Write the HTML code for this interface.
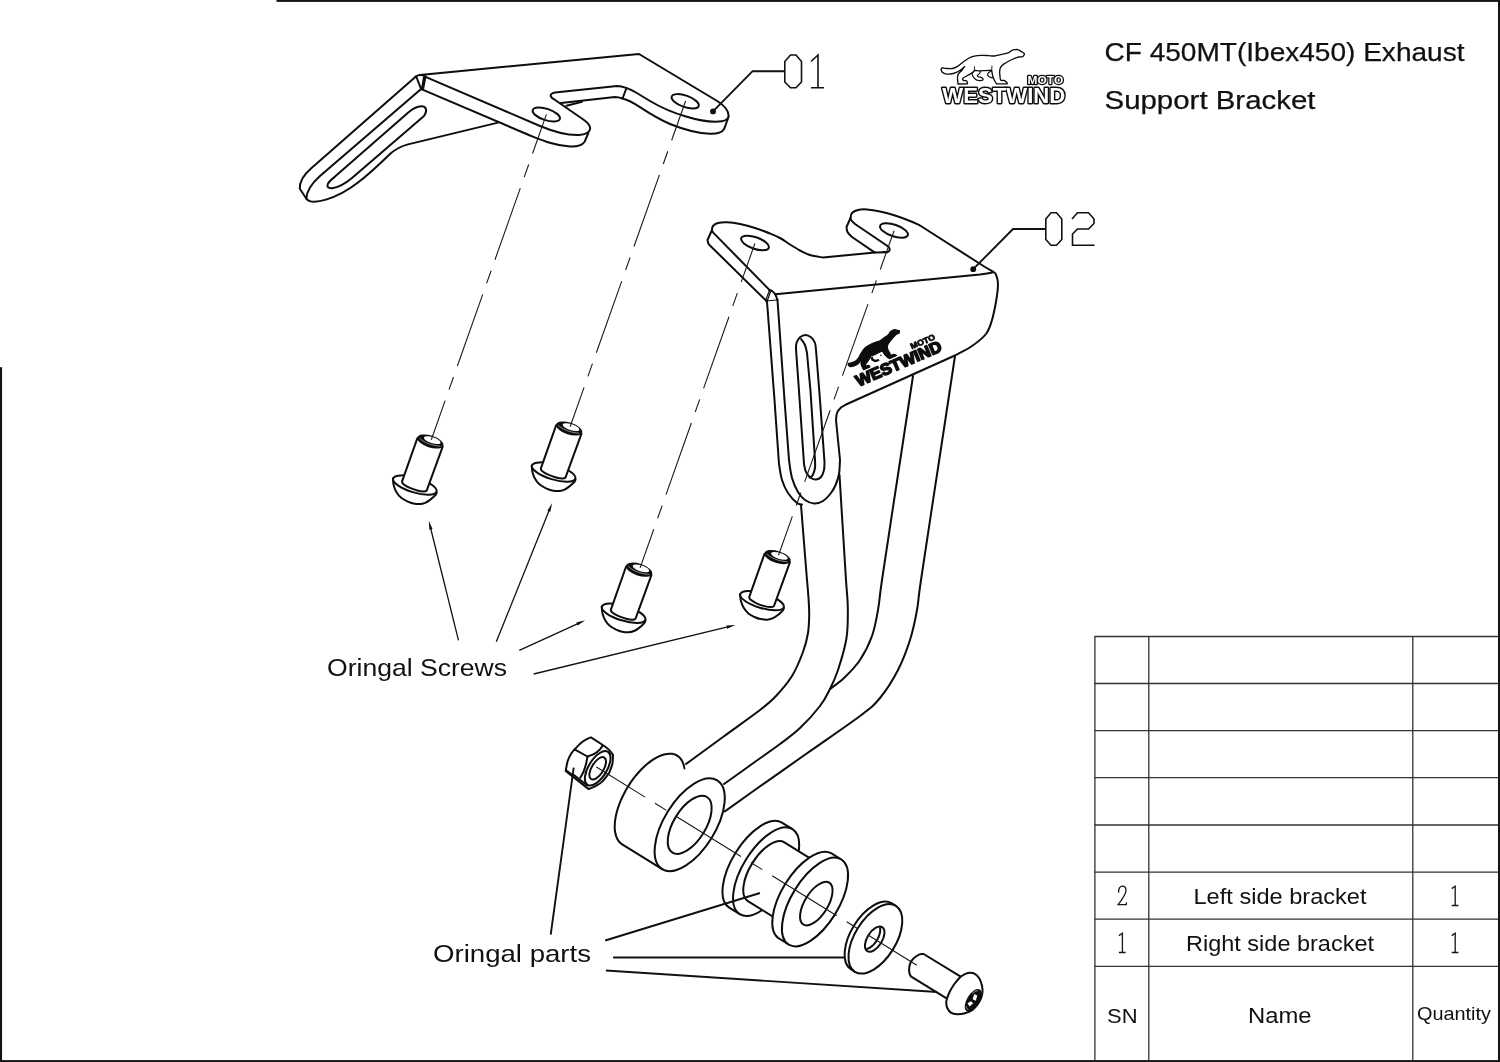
<!DOCTYPE html>
<html><head><meta charset="utf-8">
<style>
html,body{margin:0;padding:0;background:#fff;}
body{width:1500px;height:1062px;overflow:hidden;font-family:"Liberation Sans",sans-serif;}
svg{display:block;position:absolute;left:0;top:0;filter:grayscale(1);}
.o{fill:none;stroke:#0d0d0d;stroke-width:2;stroke-linecap:round;stroke-linejoin:round;}
.w{fill:#fff;stroke:#0d0d0d;stroke-width:2;stroke-linecap:round;stroke-linejoin:round;}
.c{fill:none;stroke:#1a1a1a;stroke-width:1.1;stroke-dasharray:76 11.6 13.5 11.6;}
.l{fill:none;stroke:#111;stroke-width:1.9;stroke-linecap:butt;}
.d{fill:none;stroke:#111;stroke-width:1.6;stroke-linecap:butt;}
.a{fill:none;stroke:#111;stroke-width:1.3;}
.t{fill:none;stroke:#333;stroke-width:1.3;}
.f{fill:#0d0d0d;stroke:none;}
text{font-family:"Liberation Sans",sans-serif;fill:#111;}
</style></head><body>
<svg width="1500" height="1062" viewBox="0 0 1500 1062">
<!-- FRAME -->
<g id="frame" fill="#161212">
<rect x="276.5" y="0" width="1223.5" height="1.9"/>
<rect x="0" y="367.2" width="2.05" height="695"/>
<rect x="0" y="1060.1" width="1500" height="2"/>
<rect x="1498" y="0" width="2" height="1062"/>
</g>
<!-- TABLE -->
<g id="table" class="t">
<path d="M1094.9 636.5V1060M1148.8 636.5V1060M1412.8 636.5V1060"/>
<path d="M1094.3 636.5H1498M1094.3 683.5H1498M1094.3 730.6H1498M1094.3 777.7H1498M1094.3 825H1498M1094.3 872.1H1498M1094.3 919.2H1498M1094.3 966.4H1498"/>
</g>
<!--LOGO-->
<defs><path id="anim" d="M941.0 69.3C941.2 69.0 941.3 67.9 942.2 67.8C943.1 67.7 944.7 68.4 946.4 68.5C948.1 68.6 950.8 68.8 952.6 68.5C954.5 68.2 955.8 67.5 957.5 66.4C959.2 65.4 961.1 63.5 962.9 62.2C964.7 60.9 966.6 59.5 968.3 58.5C970.0 57.5 971.1 56.9 973.3 56.4C975.5 55.9 979.1 55.5 981.6 55.4C984.1 55.3 986.1 55.5 988.3 55.6C990.4 55.7 992.4 56.2 994.5 56.0C996.6 55.8 998.4 55.1 1000.7 54.6C1003.0 54.1 1006.4 53.6 1008.2 52.9C1010.0 52.2 1010.3 51.1 1011.5 50.6C1012.7 50.1 1014.0 49.7 1015.2 49.6C1016.4 49.5 1017.5 49.4 1018.5 49.8C1019.5 50.1 1020.4 51.1 1021.4 51.7C1022.4 52.3 1023.9 52.9 1024.3 53.5C1024.7 54.1 1024.2 54.7 1023.9 55.2C1023.6 55.8 1023.0 56.5 1022.3 56.8C1021.5 57.1 1020.6 56.6 1019.4 56.8C1018.2 57.0 1016.9 57.4 1015.2 58.1C1013.5 58.8 1010.9 60.0 1009.0 61.0C1007.1 62.0 1005.4 62.9 1004.0 63.9C1002.6 64.9 1001.4 66.0 1000.7 67.2C1000.0 68.4 999.8 69.5 999.7 70.9C999.6 72.3 999.7 74.0 999.9 75.5C1000.1 77.0 1000.0 79.3 1000.7 80.1C1001.4 80.9 1003.0 80.2 1004.0 80.5C1005.0 80.8 1005.9 81.5 1006.5 82.1C1007.1 82.6 1007.2 83.5 1007.4 83.8L996.6 83.8C996.2 83.2 995.1 81.8 994.5 80.5C993.9 79.2 993.2 77.7 992.8 76.3C992.4 74.9 992.2 73.2 992.0 72.2C991.8 71.2 991.7 70.5 991.6 70.2C990.5 70.3 986.9 70.5 985.0 70.6C983.1 70.7 981.8 70.8 980.0 70.8C978.2 70.8 975.4 70.5 974.5 70.5C974.2 70.8 973.7 71.8 972.5 72.6C971.3 73.4 969.1 74.5 967.5 75.5C965.9 76.5 963.6 77.6 962.9 78.4C962.2 79.2 962.8 80.1 963.4 80.5C964.0 80.9 966.0 80.4 966.7 80.9C967.4 81.5 967.4 83.3 967.5 83.8L958 84C957.9 82.9 957.4 78.9 957.5 77.2C957.6 75.5 957.7 74.9 958.4 73.8C959.1 72.7 960.7 71.7 961.7 70.5C962.7 69.3 964.1 67.2 964.6 66.6C964.0 67.1 962.4 68.7 960.9 69.7C959.4 70.7 957.6 71.9 955.9 72.6C954.2 73.3 952.2 73.8 950.5 74.0C948.8 74.2 946.9 74.1 945.5 73.8C944.1 73.5 943.0 73.0 942.2 72.2C941.5 71.5 941.2 69.8 941.0 69.3Z"/><path id="anim2" d="M974.2 70.9C973.9 71.2 972.6 72.2 972.3 73.0C972.0 73.8 972.0 74.5 972.5 75.5C973.0 76.5 974.4 78.4 975.4 79.2C976.4 80.0 977.5 80.3 978.7 80.5C979.9 80.7 982.2 80.5 982.8 80.1C983.4 79.7 983.1 78.6 982.4 78.0C981.6 77.4 979.1 77.1 978.3 76.7C977.5 76.3 977.1 76.1 977.4 75.5C977.7 74.9 979.4 73.8 979.9 73.0C980.4 72.2 980.2 71.2 980.3 70.9M991.4 70.6C991.0 70.9 989.4 71.9 988.7 72.6C988.1 73.3 987.4 74.0 987.5 74.7C987.6 75.4 988.2 76.2 989.1 76.7C990.0 77.2 992.2 77.8 992.8 78.0"/></defs>
<g id="hlogo">
<use href="#anim" fill="#fff" stroke="#0d0d0d" stroke-width="1.35" stroke-linejoin="round"/>
<use href="#anim2" fill="none" stroke="#0d0d0d" stroke-width="1.2" stroke-linejoin="round" stroke-linecap="round"/>
<path d="M974.3 66.3L974.6 70.5M992 65.6L991.7 70.2" fill="none" stroke="#0d0d0d" stroke-width="0.9"/>
<text x="942.3" y="102.6" font-size="22.2" font-weight="700" textLength="123" lengthAdjust="spacingAndGlyphs" style="fill:#0d0d0d;stroke:#0d0d0d;stroke-width:2.9;stroke-linejoin:round">WESTWIND</text>
<text x="1027.6" y="84.2" font-size="11.2" font-weight="700" textLength="35.6" lengthAdjust="spacingAndGlyphs" style="fill:#0d0d0d;stroke:#0d0d0d;stroke-width:2.5;stroke-linejoin:round">MOTO</text>
<text x="942.3" y="102.6" font-size="22.2" font-weight="700" textLength="123" lengthAdjust="spacingAndGlyphs" style="fill:#fff;stroke:none">WESTWIND</text>
<text x="1027.6" y="84.2" font-size="11.2" font-weight="700" textLength="35.6" lengthAdjust="spacingAndGlyphs" style="fill:#fff;stroke:none">MOTO</text>
</g>
<g id="blogo" transform="translate(848.1 364.8) rotate(-23.1) scale(0.727) translate(-941 -69.3)">
<use href="#anim" fill="#0d0d0d" stroke="#0d0d0d" stroke-width="1.5" stroke-linejoin="round"/>
<path d="M973.6 72.2L972.8 76L975.6 80L979 81.3L983.3 80.8L982.6 78.3L978.4 77.6L976.4 75.6L976.6 72.2ZM986.6 74.2L988.4 74.2L988.6 76.2L987 76Z" fill="#0d0d0d"/>
<text x="942.3" y="102.6" font-size="22.2" font-weight="700" textLength="126.5" lengthAdjust="spacingAndGlyphs" style="fill:#0d0d0d;stroke:#0d0d0d;stroke-width:2.1;stroke-linejoin:round">WESTWIND</text>
<text x="1030" y="84.2" font-size="11.2" font-weight="700" textLength="35.6" lengthAdjust="spacingAndGlyphs" style="fill:#0d0d0d;stroke:#0d0d0d;stroke-width:1.1">MOTO</text>
</g>

<!--/LOGO-->
<!--TEXT-->
<g id="txt" stroke="#111" stroke-width="0.25">
<text x="1104.5" y="60.6" font-size="25.5" textLength="360" lengthAdjust="spacingAndGlyphs">CF 450MT(Ibex450) Exhaust</text>
<text x="1104.5" y="108.7" font-size="25.5" textLength="211" lengthAdjust="spacingAndGlyphs">Support Bracket</text>
</g>
<g id="txt2">
<text x="327" y="675.5" font-size="24.8" textLength="180" lengthAdjust="spacingAndGlyphs">Oringal Screws</text>
<text x="433" y="961.6" font-size="24.8" textLength="158" lengthAdjust="spacingAndGlyphs">Oringal parts</text>
<text x="1193.5" y="904.2" font-size="21.8" textLength="173" lengthAdjust="spacingAndGlyphs">Left side bracket</text>
<text x="1186" y="951.2" font-size="21.8" textLength="188" lengthAdjust="spacingAndGlyphs">Right side bracket</text>
<text x="1107" y="1022.5" font-size="20.5" textLength="30.5" lengthAdjust="spacingAndGlyphs">SN</text>
<text x="1248" y="1022.5" font-size="21.3" textLength="63.5" lengthAdjust="spacingAndGlyphs">Name</text>
<text x="1417" y="1020.3" font-size="17.8" textLength="74" lengthAdjust="spacingAndGlyphs">Quantity</text>
</g>
<g id="nums" fill="none" stroke="#151515" stroke-width="1.3">
<path id="n2" d="M1118.6 892.6C1118.3 888.5 1120 886.2 1122.3 886.2C1124.8 886.2 1126 888 1126 890.4C1126 894 1123.5 897.5 1118.1 904.6H1126.2L1126.6 902.4"/>
<path id="n1a" d="M1118.9 935.6L1122.4 933.2V952.5M1118.9 952.5H1125.6"/>
<path d="M1451.7 888.6L1455.2 886.2V905.5M1451.7 905.5H1458.4"/>
<path d="M1451.7 935.6L1455.2 933.2V952.5M1451.7 952.5H1458.4"/>
</g>
<!--BRACKET01-->
<g id="b01" class="o">
<!-- top plate outline -->
<path d="M420 75L639 54L718 101.5C724 105.5 728.8 110.5 728.6 116C728.3 119 726 120.6 722 121.2C712 122.6 699 120.5 686 116.5C672 112.5 660 107 650 101L636 92.5C630 89 624.5 86.4 617 86L555 92.5C551.5 93 550 94.8 551 96.6C551.6 98 552.5 98.3 554 99.2L584 120C588.5 123.3 590.8 126.5 590 129.5C589 133 585 134.6 579 135C566 135.6 552 131 540 126L425.5 76.8"/>
<!-- thickness right tab -->
<path d="M728.5 117L724 129.3C722 132.5 717 134 710 133.8C698 133.4 684 129.6 670 124C658 119 648 112.5 640 107.2C634 103.2 628.5 100 622.5 98.5C620 97.6 617.5 97 615 97L561 103"/>
<path d="M626.5 88L622.5 98.5"/>
<path d="M582 101.8L566.5 105.8"/>
<!-- thickness left tab -->
<path d="M588.3 133.2L584.5 142C582 145.4 577 146.8 570 146.5C556 146 543 140.6 530 135.5L422.5 89.6"/>
<!-- bend -->
<path d="M415.6 76.6C418.5 74.6 422.5 74.6 425.5 76.6"/>
<path d="M416.4 77L421.3 89.4M425.5 76.6L423 89.6M424 77L422 89"/>
<!-- left arm -->
<path d="M415.6 76.8L311 168.5C303.5 175 299.4 181.5 299.8 188.7L306.4 198.8"/>
<path d="M420.8 89.2L320 176C311 184 306.5 191 306.4 198.8C310 203 318 202 326 199.6C338 196 349 189.5 358 182.5C370 173.5 380 163.5 390 154C396 148.6 402 146 408 144.4L498 122.6"/>
<!-- slot -->
<path d="M424 116L352 178C346 183 338 187.5 332 188.2C328 188.6 326.5 186.5 328 183.6C329.5 181 332 179 335 176.6L408 112.8C412 109.2 417.5 106.4 421.5 106.3C426.5 106.2 427.6 111 424 116Z"/>
<!-- holes -->
<ellipse cx="546.3" cy="114.5" rx="14.3" ry="5.7" transform="rotate(18.5 546.3 114.5)"/>
<ellipse cx="685.2" cy="101.3" rx="14.3" ry="5.7" transform="rotate(19.5 685.2 101.3)"/>
</g>
<circle class="f" cx="713" cy="111.4" r="2.9"/>
<path class="l" d="M713 111.4L752.6 71.2H785"/>
<path class="d" d="M790.5 55H796L801.5 61.5V82L796 87.8H790.5L784.8 82V61.5Z" stroke-linejoin="miter"/>
<path class="d" d="M811 61.5L818 55V87.8M811 87.8H824"/>
<!--BRACKET02-->
<g id="b02" class="o">
<path d="M770 290.5L713.2 232.6C713.0 232.2 712.0 231.1 712.0 230.0C712.0 228.9 712.0 227.2 713.0 226.0C714.0 224.8 715.7 223.6 718.0 223.0C720.3 222.4 723.3 222.0 727.0 222.2C730.7 222.4 735.3 223.0 740.0 224.0C744.7 225.0 750.0 226.4 755.0 228.0C760.0 229.6 765.8 231.8 770.0 233.5C774.2 235.2 776.7 236.2 780.0 238.0C783.3 239.8 786.7 242.4 790.0 244.5C793.3 246.6 796.7 248.8 800.0 250.5C803.3 252.2 806.2 253.8 810.0 255.0C813.8 256.2 820.8 257.1 823.0 257.5L875 252.5"/>
<path d="M712 230L707.5 240C707.7 240.6 707.8 242.5 708.5 243.7C709.2 244.9 711.0 246.4 711.5 247.0L767 301.5"/>
<path d="M883.0 252.0C883.7 252.0 885.9 252.4 887.0 252.2C888.1 251.9 889.2 251.3 889.5 250.5C889.8 249.7 889.6 248.4 889.0 247.5C888.4 246.6 886.5 245.4 886.0 245.0L855 224C854.4 223.4 852.2 221.5 851.5 220.5C850.8 219.5 850.4 219.2 850.5 218.0C850.6 216.8 850.8 214.3 852.0 213.0C853.2 211.7 855.5 210.6 858.0 210.0C860.5 209.4 863.3 209.2 867.0 209.5C870.7 209.8 875.3 210.5 880.0 211.5C884.7 212.5 890.0 213.9 895.0 215.5C900.0 217.1 905.8 219.3 910.0 221.0C914.2 222.7 918.3 224.8 920.0 225.5L985 267L993 271.6"/>
<path d="M875 252.5L887 252.2"/>
<path d="M850.5 218L846.5 227C846.7 227.8 846.6 230.3 847.5 232.0C848.4 233.7 851.2 236.2 852.0 237.0L874.5 252.3"/>
<path d="M769.5 290.3C769.9 290.4 771.0 290.3 772.0 291.0C773.0 291.7 774.3 292.8 775.2 294.3C776.1 295.8 777.1 299.1 777.5 300.0"/>
<path d="M769.3 290.6L765.5 301L776.8 300M770.8 291L767.2 301" stroke-width="1.2"/>
<path d="M775.3 294.3L980 274.6C981.7 274.3 987.6 273.4 990.0 273.0C992.4 272.6 993.3 271.8 994.5 272.5C995.7 273.2 996.4 275.4 997.0 277.5C997.6 279.6 998.1 281.2 998.0 285.0C997.9 288.8 997.3 294.2 996.3 300.0C995.3 305.8 993.7 314.3 992.0 320.0C990.3 325.7 989.3 329.7 986.0 334.0C982.7 338.3 977.0 342.5 972.0 346.0C967.0 349.5 958.7 353.5 956.0 355.0L846 404.5C845.2 405.0 842.5 406.1 841.0 407.5C839.5 408.9 837.8 410.9 837.0 413.0C836.2 415.1 836.2 418.8 836.0 420.0L840 460C839.8 462.3 839.7 470.0 839.0 474.0C838.3 478.0 837.3 480.8 836.0 484.0C834.7 487.2 833.2 490.2 831.0 493.0C828.8 495.8 825.8 499.2 823.0 501.0C820.2 502.8 817.0 503.7 814.0 503.5C811.0 503.3 807.7 501.9 805.0 500.0C802.3 498.1 800.2 495.7 798.0 492.0C795.8 488.3 793.5 483.3 792.0 478.0C790.5 472.7 789.5 463.0 789.0 460.0L784.5 400L777.5 300"/>
<path d="M767 301.5L774.5 400L779 464C779.5 466.7 780.5 475.2 782.0 480.0C783.5 484.8 785.5 489.2 788.0 493.0C790.5 496.8 794.7 501.1 797.0 503.0C799.3 504.9 801.2 504.2 802.0 504.5"/>
<path d="M804 464C804.3 465.3 804.8 469.7 806.0 472.0C807.2 474.3 809.3 476.8 811.0 478.0C812.7 479.2 814.3 479.7 816.0 479.5C817.7 479.3 819.7 478.6 821.0 477.0C822.3 475.4 823.4 472.5 824.0 470.0C824.6 467.5 824.4 463.3 824.5 462.0L820 400L816 350C815.8 348.8 815.8 345.1 815.0 343.0C814.2 340.9 812.6 338.6 811.0 337.3C809.4 336.0 807.3 335.0 805.5 335.0C803.7 335.0 801.5 336.0 800.0 337.3C798.5 338.6 797.2 341.1 796.5 343.0C795.8 344.9 796.1 348.0 796.0 349.0L799 391Z"/>
<path d="M801.0 339.0C801.7 340.0 804.0 342.7 805.0 345.0C806.0 347.3 806.7 351.7 807.0 353.0L810.5 391L815 460C815.0 461.3 815.4 465.4 815.0 468.0C814.6 470.6 813.4 473.9 812.5 475.5C811.6 477.1 810.0 477.2 809.5 477.5"/>
<path d="M801.0 505.0C801.5 511.2 803.0 530.0 804.0 542.5C805.0 555.0 806.2 570.8 807.0 580.0C807.8 589.2 808.1 592.2 808.5 598.0C808.9 603.8 809.3 609.2 809.2 615.0C809.1 620.8 809.0 626.8 808.0 633.0C807.0 639.2 805.7 644.8 803.0 652.0C800.3 659.2 796.5 668.7 792.0 676.0C787.5 683.3 781.3 690.3 776.0 696.0C770.7 701.7 768.8 703.2 760.0 710.0C751.2 716.8 735.3 728.0 723.0 737.0C710.7 746.0 692.2 759.5 686.0 764.0"/>
<path d="M839.5 475.0C840.0 483.7 841.6 509.5 842.7 527.0C843.8 544.5 845.1 566.5 846.0 580.0C846.9 593.5 847.7 598.3 847.8 608.0C847.9 617.7 848.1 627.7 846.5 638.0C844.9 648.3 840.8 661.5 838.0 670.0C835.2 678.5 833.0 683.0 830.0 689.0C827.0 695.0 825.0 699.5 820.0 706.0C815.0 712.5 806.7 721.7 800.0 728.0C793.3 734.3 788.0 738.0 780.0 744.0C772.0 750.0 761.3 757.3 752.0 764.0C742.7 770.7 728.7 780.7 724.0 784.0"/>
<path d="M913.0 376.0C910.4 393.0 902.7 444.0 897.5 478.0C892.3 512.0 885.2 558.0 882.0 580.0C878.8 602.0 879.7 600.7 878.0 610.0C876.3 619.3 875.0 627.7 872.0 636.0C869.0 644.3 864.7 653.0 860.0 660.0C855.3 667.0 849.0 673.2 844.0 678.0C839.0 682.8 832.3 687.2 830.0 689.0"/>
<path d="M955.0 356.0C952.2 374.7 943.7 430.7 938.0 468.0C932.3 505.3 924.5 556.3 921.0 580.0C917.5 603.7 918.8 600.0 917.0 610.0C915.2 620.0 913.2 630.0 910.0 640.0C906.8 650.0 903.0 660.3 898.0 670.0C893.0 679.7 886.3 690.3 880.0 698.0C873.7 705.7 872.3 706.7 860.0 716.0C847.7 725.3 824.0 741.3 806.0 754.0C788.0 766.7 765.5 782.4 752.0 792.0C738.5 801.6 729.4 808.2 724.9 811.4"/>
<ellipse cx="755" cy="243" rx="14.6" ry="5.8" transform="rotate(19.3 755 243)"/>
<ellipse cx="894" cy="230.5" rx="14.6" ry="5.8" transform="rotate(18.6 894 230.5)"/>
</g>
<circle class="f" cx="973.2" cy="269.2" r="2.9"/>
<path class="l" d="M973.2 269.2L1013 229H1046"/>
<path class="d" d="M1051 212.8H1056.5L1061.8 219V239.5L1056.5 245.2H1051L1045.8 239.5V219Z"/>
<path class="d" d="M1072 219L1077.5 212.8H1088.5L1094 219V223.5L1088.5 229H1077.5L1072.5 234V245.2H1094.5"/>

<!--SCREWS-->
<defs><g id="scr">
<path class="w" d="M392.9 478.4C393.0 479.5 393.1 482.8 393.7 485.2C394.3 487.6 395.4 490.4 396.7 492.5C397.9 494.6 399.4 496.3 401.2 497.8C403.0 499.3 405.3 500.4 407.3 501.4C409.3 502.3 411.2 503.1 413.3 503.5C415.4 503.9 418.0 504.2 420.0 504.1C422.0 504.0 423.5 503.5 425.2 502.8C426.9 502.1 428.6 500.9 430.0 499.9C431.4 498.9 432.5 497.9 433.5 497.0C434.5 496.1 435.3 495.4 435.8 494.6C436.3 493.8 436.6 492.8 436.7 492.4"/>
<ellipse class="w" cx="414.85" cy="485.05" rx="22.7" ry="7.4" transform="rotate(16.9 414.85 485.05)"/>
<path class="w" d="M417.3 438.3L402 481.6C402.2 482.0 402.0 483.0 403.2 484.0C404.4 485.0 406.9 486.6 409.3 487.7C411.7 488.8 415.0 489.9 417.4 490.5C419.8 491.1 422.0 491.4 423.5 491.5C425.0 491.6 425.7 491.3 426.3 490.9C426.9 490.5 427.1 489.5 427.2 489.2L442.7 446.7Z"/>
<ellipse cx="430.3" cy="441.5" rx="13.7" ry="6.0" transform="rotate(17.9 430.3 441.5)" fill="#0d0d0d"/>
<ellipse cx="432.2" cy="440.2" rx="8.7" ry="3.0" transform="rotate(18 432.2 440.2)" fill="#fff"/>
<path d="M419.5 438.2C423 442 431 445.6 440.5 446.2" fill="none" stroke="#fff" stroke-width="0.5"/>
</g></defs>
<use href="#scr"/>
<use href="#scr" x="138.8" y="-13"/>
<use href="#scr" x="208.8" y="128.2"/>
<use href="#scr" x="347.2" y="115.6"/>

<!--BOSS-->
<path class="o" d="M684.4 768.4L683.8 765.4L682.9 762.7L681.8 760.4L680.3 758.3L678.6 756.6L676.7 755.3L674.5 754.4L672.1 753.8L669.6 753.7L666.8 753.9L664.0 754.5L661.0 755.5L657.9 756.8L654.7 758.6L651.5 760.6L648.3 763.1L645.1 765.8L642.0 768.8L638.9 772.0L635.9 775.5L633.0 779.2L630.2 783.1L627.7 787.1L625.3 791.3L623.1 795.5L621.1 799.7L619.4 804.0L617.9 808.2L616.7 812.3L615.8 816.3L615.1 820.3L614.8 824.0L614.7 827.5L614.9 830.8L615.5 833.9L616.3 836.6L617.4 839.1L618.7 841.2L620.4 843.0L622.2 844.4L662.2 869.2"/>
<ellipse class="o" cx="689.7" cy="824.8" rx="25.58" ry="52.20" transform="rotate(31.8 689.7 824.8)" />
<ellipse class="o" cx="689.7" cy="824.8" rx="16.02" ry="32.70" transform="rotate(31.8 689.7 824.8)" />
<path class="w" d="M792.5 829.2 L781.9 822.6 A23.50 50.00 31.8 0 0 729.2 907.6 L739.8 914.2"/>
<ellipse class="w" cx="766.1" cy="871.7" rx="23.50" ry="50.00" transform="rotate(31.8 766.1 871.7)" />
<path class="w" d="M823.0 866.3 L784.4 842.3 A16.26 34.60 31.8 0 0 747.9 901.1 L786.6 925.1"/>
<ellipse class="w" cx="804.8" cy="895.7" rx="16.26" ry="34.60" transform="rotate(31.8 804.8 895.7)" />
<path class="w" d="M841.3 859.5 L831.1 853.2 A23.50 50.00 31.8 0 0 778.5 938.2 L788.7 944.5"/>
<ellipse class="w" cx="815.0" cy="902.0" rx="23.50" ry="50.00" transform="rotate(31.8 815.0 902.0)" />
<ellipse class="o" cx="816.3" cy="903.6" rx="11.56" ry="24.60" transform="rotate(31.8 816.3 903.6)" />
<path class="w" d="M895.8 905.8 L891.4 903.1 A20.56 38.80 31.8 0 0 850.5 969.0 L855.0 971.8"/>
<ellipse class="w" cx="875.4" cy="938.8" rx="20.56" ry="38.80" transform="rotate(31.8 875.4 938.8)" />
<ellipse class="o" cx="874.7" cy="939.1" rx="7.47" ry="14.10" transform="rotate(31.8 874.7 939.1)" />
<path class="o" d="M880.1 928.1L880.1 928.6L880.2 929.1L880.2 929.7L880.2 930.2L880.2 930.8L880.1 931.4L880.1 932.1L879.9 932.7L879.8 933.3L879.6 934.0L879.4 934.7L879.2 935.3L879.0 936.0L878.7 936.7L878.4 937.3L878.1 938.0L877.8 938.7L877.4 939.3L877.1 940.0L876.7 940.6L876.3 941.2L875.8 941.9L875.4 942.5L874.9 943.0L874.5 943.6L874.0 944.1L873.5 944.7L873.0 945.2L872.5 945.6L872.0 946.1L871.5 946.5L870.9 946.9L870.4 947.3L869.9 947.6L869.4 947.9L868.9 948.2L868.4 948.4L867.9 948.6L867.4 948.8L866.9 948.9"/>
<path class="w" d="M923.6 954.0C922.9 954.0 921.1 953.6 919.5 954.3C917.9 955.0 915.5 956.6 914.0 958.0C912.5 959.4 911.4 960.8 910.6 962.5C909.8 964.2 909.4 966.2 909.2 968.0C909.0 969.8 909.1 971.6 909.4 973.0C909.7 974.4 910.6 975.8 910.8 976.4L947 998.7L960.7 976.7Z"/>
<path class="w" d="M960.7 976.7C961.4 976.3 963.4 974.8 964.9 974.1C966.4 973.5 968.3 972.8 970.0 972.8C971.7 972.8 973.6 973.1 975.2 974.1C976.8 975.1 978.3 976.6 979.4 978.5C980.5 980.4 981.5 983.5 982.0 985.7C982.5 988.0 982.7 989.8 982.5 992.0C982.3 994.2 981.8 996.6 980.9 998.7C980.0 1000.9 978.8 1003.0 977.3 1004.9C975.8 1006.8 974.2 1008.7 972.1 1010.1C970.0 1011.5 967.4 1012.5 964.9 1013.2C962.4 1013.9 959.4 1014.3 957.1 1014.2C954.8 1014.1 952.5 1013.7 950.9 1012.7C949.3 1011.7 948.1 1009.7 947.3 1008.0C946.5 1006.3 946.2 1003.8 946.2 1002.3C946.2 1000.8 946.9 999.3 947.0 998.7C947.4 997.7 948.2 994.8 949.3 992.5C950.4 990.2 952.1 987.3 953.5 985.2C954.9 983.1 956.4 981.4 957.6 980.0C958.8 978.6 960.2 977.2 960.7 976.7"/>
<ellipse cx="973.2" cy="1000.2" rx="6.22" ry="12.60" transform="rotate(31.8 973.2 1000.2)" fill="#0d0d0d"/>
<path d="M974.2 994L977.3 995.6L975.8 1000.8L972.6 999.2ZM967.5 1003.3L971.1 1001.3L973.2 1003.3L969.5 1006.5Z" fill="#fff"/>
<path d="M972.3 993.4L972.8 993.0L973.3 992.6L973.9 992.2L974.4 991.8L974.9 991.6L975.3 991.3L975.8 991.1L976.3 991.0L976.7 990.9L977.2 990.8L977.6 990.8L978.0 990.9" fill="none" stroke="#fff" stroke-width="0.6"/>
<path d="M968.4 1009.5L968.1 1009.4L967.8 1009.3L967.5 1009.1L967.3 1008.9L967.0 1008.7L966.8 1008.4L966.7 1008.1L966.5 1007.8L966.4 1007.4L966.3 1007.0L966.2 1006.5L966.2 1006.1" fill="none" stroke="#fff" stroke-width="0.6"/>
<path class="w" d="M591.0 737.3 L602.8 745.0Q609.0 748.6 613.0 754.9C612.9 756.4 613.0 760.8 612.4 763.8C611.8 766.8 609.7 771.3 609.2 772.8C608.1 774.2 604.9 779.0 602.8 781.1C600.7 783.2 598.8 784.3 596.4 785.6C594.0 786.9 590.0 788.5 588.7 789.1L565.7 770.9C566.0 769.3 566.8 764.1 567.6 761.3C568.5 758.5 569.6 756.2 570.8 754.2C572.0 752.2 574.0 750.2 574.6 749.4C575.6 748.4 578.6 745.0 580.4 743.4C582.2 741.8 583.7 740.8 585.5 739.8C587.3 738.8 590.1 737.7 591.0 737.3Z" stroke-width="1.7"/>
<path class="o" d="M574.6 749.4 L587.4 756.5C588.6 756.1 592.4 755.0 594.4 753.9C596.4 752.8 598.2 751.2 599.6 749.8C601.0 748.4 602.0 746.3 602.5 745.6" stroke-width="1.6"/>
<path class="o" d="M587.4 756.5C587.2 757.6 586.8 760.7 586.2 763.2C585.6 765.7 584.6 769.1 583.6 771.5C582.6 773.9 580.9 776.6 580.4 777.6" stroke-width="1.6"/>
<path class="o" d="M573.6 774.8L587 785.2" stroke-width="1.0"/>
<path d="M565.7 770.9L572.5 776.3L573 774.3L567 769.8Z" fill="#0d0d0d"/>
<ellipse class="o" cx="597.7" cy="768.3" rx="9.12" ry="19.40" transform="rotate(31.8 597.7 768.3)" stroke-width="1.5"/>
<ellipse class="o" cx="597.7" cy="768.3" rx="5.92" ry="12.60" transform="rotate(31.8 597.7 768.3)" stroke-width="2.5"/>

<!--LABELS-->
<path class="c" d="M546.4 114.4 L431.3 439.7" stroke-dashoffset="34.5"/>
<path class="c" d="M685.6 101.0 L570.1 426.7" stroke-dashoffset="34.3"/>
<path class="c" d="M754.9 243.4 L640.1 567.9" stroke-dashoffset="34.9"/>
<path class="c" d="M894.1 230.7 L778.5 555.3" stroke-dashoffset="34.8"/>
<path class="c" d="M596.4 767.0 L916.8 965.2" stroke-dashoffset="18.7"/>
<path class="l" d="M573.7 767.6L550.7 934.7M605.2 940.5L760 893M613.1 957.5H844M605.9 970.5L937.2 992"/>
<path class="a" d="M458.5 640.3 L430.7 528.5"/><path class="f" d="M428.8 520.7 L432.5 529.0 L429.4 529.8 Z"/>
<path class="a" d="M496.3 641.8 L549.2 510.3"/><path class="f" d="M552.2 502.9 L550.3 511.8 L547.4 510.7 Z"/>
<path class="a" d="M519.3 650.4 L577.9 623.6"/><path class="f" d="M585.2 620.3 L577.7 625.5 L576.3 622.6 Z"/>
<path class="a" d="M533.7 674.0 L727.7 626.9"/><path class="f" d="M735.5 625.0 L727.1 628.7 L726.4 625.6 Z"/>

</svg>
</body></html>
